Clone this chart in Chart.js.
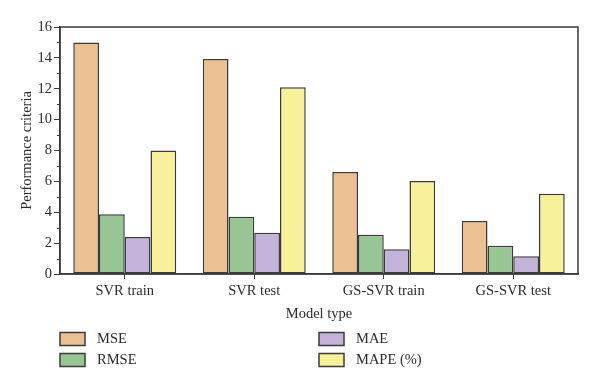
<!DOCTYPE html>
<html>
<head>
<meta charset="utf-8">
<script src="https://cdn.jsdelivr.net/npm/chart.js@4"></script>
<style>
    html, body { margin: 0; padding: 0; background: #fff; }
    canvas { display: block; }
</style>
</head>
<body>
<canvas id="chart" width="600" height="388"></canvas>
<script>
// --- Data ---
const categories = ['SVR train', 'SVR test', 'GS-SVR train', 'GS-SVR test'];
const mse  = [15.0, 13.92, 6.6, 3.43];
const rmse = [3.87, 3.71, 2.55, 1.83];
const mae  = [2.4, 2.68, 1.6, 1.15];
const mape = [8.0, 12.1, 6.02, 5.2];
const seriesNames = ['MSE', 'RMSE', 'MAE', 'MAPE (%)'];
const yMin = 0;
const yMax = 16;

const FONT = 'Liberation Serif';
const INK = '#3a3a3a';
const colors = ['#ebc193', '#98c594', '#c3b3d9', '#f8f19b'];

const makeSet = (label, data, color) => ({
    label: label,
    data: data,
    backgroundColor: color,
    borderColor: INK,
    borderWidth: 1.5,
    borderSkipped: false,
    categoryPercentage: 0.795,
    barPercentage: 1.0
});

// box around the plot + minor ticks on the y axis
const framePlugin = {
    id: 'frame',
    afterDraw(chart) {
        const { ctx, chartArea: a, scales } = chart;
        ctx.save();
        ctx.strokeStyle = INK;
        ctx.lineWidth = 1.5;
        ctx.strokeRect(a.left, a.top, a.right - a.left, a.bottom - a.top);

        // minor ticks at odd values
        ctx.lineWidth = 1;
        const y = scales.y;
        for (let v = yMin + 1; v < yMax; v += 2) {
            const py = Math.round(y.getPixelForValue(v)) + 0.5;
            ctx.beginPath();
            ctx.moveTo(a.left - 3, py);
            ctx.lineTo(a.left, py);
            ctx.stroke();
        }
        ctx.restore();
    }
};

// legend in two columns under the axis title
const legendPlugin = {
    id: 'colLegend',
    afterDraw(chart) {
        const { ctx } = chart;
        const colX = [60, 319];
        const rowY = [339, 360];
        ctx.save();
        ctx.font = '14.5px "' + FONT + '"';
        ctx.textBaseline = 'middle';
        ctx.textAlign = 'left';
        chart.data.datasets.forEach((ds, i) => {
            const x = colX[Math.floor(i / 2)];
            const yc = rowY[i % 2];
            ctx.fillStyle = ds.backgroundColor;
            ctx.fillRect(x, yc - 6.5, 25, 13);
            ctx.strokeStyle = INK;
            ctx.lineWidth = 1.5;
            ctx.strokeRect(x, yc - 6.5, 25, 13);
            ctx.fillStyle = '#2b2b2b';
            ctx.fillText(ds.label, x + 37, yc);
        });
        ctx.restore();
    }
};

const ctx = document.getElementById('chart').getContext('2d');
new Chart(ctx, {
    type: 'bar',
    data: {
        labels: categories,
        datasets: [
            makeSet(seriesNames[0], mse, colors[0]),
            makeSet(seriesNames[1], rmse, colors[1]),
            makeSet(seriesNames[2], mae, colors[2]),
            makeSet(seriesNames[3], mape, colors[3])
        ]
    },
    options: {
        responsive: false,
        animation: false,
        layout: { padding: { top: 27, right: 22, bottom: 62, left: 0 } },
        plugins: {
            legend: { display: false },
            tooltip: { enabled: false }
        },
        scales: {
            x: {
                afterFit: (s) => { s.height = 52; },
                border: { color: INK, width: 1.5 },
                grid: {
                    offset: false,
                    drawOnChartArea: false,
                    tickLength: 5,
                    tickColor: INK,
                    tickWidth: 1
                },
                ticks: {
                    color: '#2b2b2b',
                    padding: 3,
                    font: { family: FONT, size: 14.5 }
                },
                title: {
                    display: true,
                    text: 'Model type',
                    color: '#2b2b2b',
                    padding: { top: 3, bottom: 3 },
                    font: { family: FONT, size: 14.5 }
                }
            },
            y: {
                min: yMin,
                max: yMax,
                afterFit: (s) => { s.width = 60; },
                border: { color: INK, width: 1.5 },
                grid: {
                    drawOnChartArea: false,
                    tickLength: 6,
                    tickColor: INK,
                    tickWidth: 1
                },
                ticks: {
                    stepSize: 2,
                    color: '#2b2b2b',
                    padding: 2,
                    font: { family: FONT, size: 14.5 }
                },
                title: {
                    display: true,
                    text: 'Performance criteria',
                    color: '#2b2b2b',
                    padding: { top: 18, bottom: 2 },
                    font: { family: FONT, size: 14.5 }
                }
            }
        }
    },
    plugins: [framePlugin, legendPlugin]
});
</script>
</body>
</html>
